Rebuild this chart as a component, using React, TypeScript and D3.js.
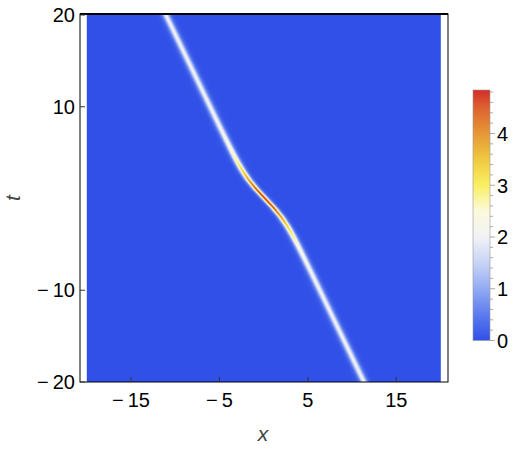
import { useEffect, useMemo } from 'react';
import * as d3 from 'd3';

// ridge of the density: time, centre x, peak value
const ridgeT = [-20, -16, -12, -10, -8, -7, -6, -5, -4, -3, -2, -1, 0, 1, 2, 3, 4, 5, 6, 7, 8, 10, 12, 16, 20];
const ridgeX = [11.35, 9.35, 7.35, 6.35, 5.35, 4.84, 4.33, 3.81, 3.27, 2.67, 1.97, 1.12, 0.15, -0.82, -1.67, -2.37, -2.97, -3.51, -4.03, -4.54, -5.05, -6.05, -7.05, -9.05, -11.05];
const ridgePeak = [2.0, 2.0, 2.01, 2.04, 2.12, 2.2, 2.34, 2.58, 2.95, 3.47, 4.08, 4.62, 4.84, 4.62, 4.08, 3.47, 2.95, 2.58, 2.34, 2.2, 2.12, 2.04, 2.01, 2.0, 2.0];

const xTicks = [-15, -5, 5, 15];
const tTicks = [-20, -10, 10, 20];
const barTicks = [0, 1, 2, 3, 4];
const barMax = 4.84;

// TemperatureMap-like gradient
const colorStops = [0, 0.5, 1, 1.5, 2, 2.5, 3, 3.5, 4, 4.5, 4.84];
const colorValues = ['#3050e8', '#5c7bee', '#93abf3', '#c8d4f6', '#f2f2f6', '#fbf9dc', '#faef62', '#f0c940', '#e69737', '#dc6230', '#d32d29'];

const W = 519, H = 449;
const fontFamily = '"Liberation Sans", Arial, sans-serif';
const fmt = (v: number) => (v < 0 ? `\u2212\u2009${-v}` : `${v}`);

export default function App() {
  useEffect(() => {
    document.body.style.margin = '0';
  }, []);

  const x = d3.scaleLinear().domain([-20, 20]).range([86.8, 440.5]);
  const y = d3.scaleLinear().domain([-20, 20]).range([382, 15]);
  const bar = d3.scaleLinear().domain([0, barMax]).range([340.5, 90]);
  const color = d3.scaleLinear<string>().domain(colorStops).range(colorValues).interpolate(d3.interpolateRgb).clamp(true);

  const centre = d3.scaleLinear().domain(ridgeT).range(ridgeX);
  const peak = d3.scaleLinear().domain(ridgeT).range(ridgePeak);

  const img = useMemo(() => {
    const w = Math.round(x(20) - x(-20));
    const h = Math.round(y(-20) - y(20));
    const cv = document.createElement('canvas');
    cv.width = w;
    cv.height = h;
    const ctx = cv.getContext('2d')!;
    const data = ctx.createImageData(w, h);
    for (let j = 0; j < h; j++) {
      const t = y.invert(y(20) + j + 0.5);
      const c = centre(t);
      const a = peak(t);
      const k = 2.69 * Math.pow(a / 2, 0.25);
      for (let i = 0; i < w; i++) {
        const xv = x.invert(x(-20) + i + 0.5);
        const s = 1 / Math.cosh(k * (xv - c));
        const col = d3.rgb(color(a * s * s));
        const p = (j * w + i) * 4;
        data.data[p] = col.r;
        data.data[p + 1] = col.g;
        data.data[p + 2] = col.b;
        data.data[p + 3] = 255;
      }
    }
    ctx.putImageData(data, 0, 0);
    return { href: cv.toDataURL(), w, h };
  }, []);

  const gradStops = d3.range(0, 1.0001, 0.02);
  const minor = d3.range(0, barMax, 0.2);

  return (
    <svg width={W} height={H} style={{ display: 'block', background: '#fff' }} fontFamily={fontFamily}>
      <defs>
        <linearGradient id="cb" x1="0" y1="1" x2="0" y2="0">
          {gradStops.map((f) => (
            <stop key={f} offset={f} stopColor={color(f * barMax)} />
          ))}
        </linearGradient>
      </defs>

      <image href={img.href} x={x(-20)} y={y(20)} width={img.w} height={img.h} preserveAspectRatio="none" />

      {/* frame */}
      <rect x={80} y={14} width={368} height={368} fill="none" stroke="#000" strokeWidth={1} />
      <line x1={80} x2={448} y1={14} y2={14} stroke="#000" strokeWidth={2} />

      {xTicks.map((v) => (
        <g key={v}>
          <line x1={x(v)} x2={x(v)} y1={382} y2={377} stroke="#333" />
          <text x={x(v)} y={407} fontSize={20} textAnchor="middle">{fmt(v)}</text>
        </g>
      ))}
      {tTicks.map((v) => (
        <g key={v}>
          <line x1={80} x2={85} y1={y(v)} y2={y(v)} stroke="#333" />
          <text x={75} y={y(v) + 7} fontSize={20} textAnchor="end">{fmt(v)}</text>
        </g>
      ))}

      <text x={263} y={441} fontSize={21} fontStyle="italic" fill="#444" textAnchor="middle">x</text>
      <text transform="translate(20,198) rotate(-90)" fontSize={21} fontStyle="italic" fill="#444" textAnchor="middle">t</text>

      {/* colour bar */}
      <rect x={473} y={bar(barMax)} width={17} height={bar(0) - bar(barMax)} fill="url(#cb)" stroke="#999" strokeWidth={0.6} />
      {minor.map((v) => (
        <line key={v} x1={490} x2={Math.abs(v - Math.round(v)) < 1e-6 ? 495 : 493} y1={bar(v)} y2={bar(v)} stroke="#888" strokeWidth={0.7} />
      ))}
      {barTicks.map((v) => (
        <text key={v} x={497} y={bar(v) + 7.5} fontSize={20}>{v}</text>
      ))}
    </svg>
  );
}
